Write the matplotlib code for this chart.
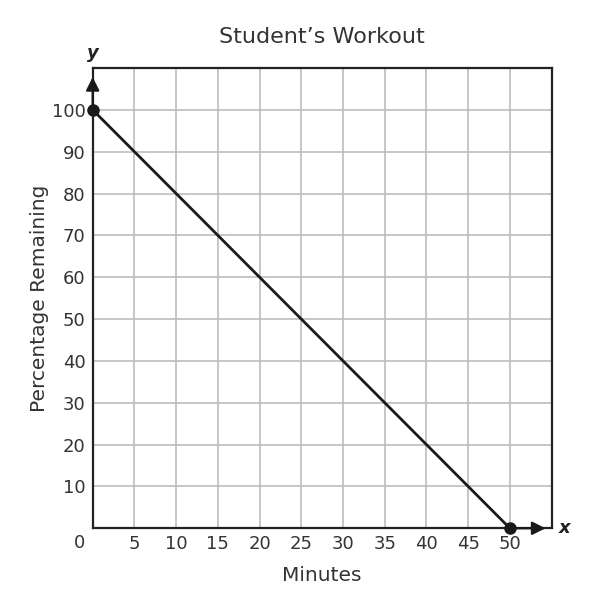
import matplotlib
matplotlib.use('Agg')
import matplotlib.pyplot as plt

# Datos del gráfico
minutes = [0, 50]
percentage = [100, 0]
x_ticks = [5, 10, 15, 20, 25, 30, 35, 40, 45, 50]
y_ticks = [10, 20, 30, 40, 50, 60, 70, 80, 90, 100]

fig = plt.figure(figsize=(6.01, 6.13), dpi=100)
ax = fig.add_axes([0.1542, 0.1382, 0.7637, 0.7509])

ax.set_xlim(0, 55)
ax.set_ylim(0, 110)

# Cuadrícula
for xv in x_ticks:
    ax.axvline(xv, color='#bcbcbc', lw=1.2, zorder=1)
for yv in y_ticks:
    ax.axhline(yv, color='#bcbcbc', lw=1.2, zorder=1)

for s in ax.spines.values():
    s.set_color('#222222')
    s.set_linewidth(1.6)

ax.set_xticks(x_ticks)
ax.set_yticks(y_ticks)
ax.tick_params(length=0, labelsize=13, labelcolor='#333333', pad=5)

# Línea y puntos
ax.plot(minutes, percentage, color='#1a1a1a', lw=2, zorder=3, clip_on=False)
ax.plot(minutes, percentage, 'o', color='#1a1a1a', ms=8, zorder=4, clip_on=False)

# Flechas de los ejes
ax.annotate('', xy=(0, 108.5), xytext=(0, 100),
            arrowprops=dict(arrowstyle='-|>', mutation_scale=20, color='#1a1a1a', lw=1.6),
            annotation_clip=False)
ax.annotate('', xy=(54.6, 0), xytext=(50, 0),
            arrowprops=dict(arrowstyle='-|>', mutation_scale=20, color='#1a1a1a', lw=1.6),
            annotation_clip=False)

ax.text(0, 111.5, 'y', fontsize=13, fontweight='bold', fontstyle='italic',
        ha='center', va='bottom', color='#222222')
ax.text(55.9, 0, 'x', fontsize=13, fontweight='bold', fontstyle='italic',
        ha='left', va='center', color='#222222')
ax.text(-0.9, -1.25, '0', fontsize=13, color='#333333', ha='right', va='top')

ax.set_title("Student\u2019s Workout", fontsize=16, color='#333333', pad=18)
ax.set_xlabel('Minutes', fontsize=14.5, color='#333333', labelpad=9)
ax.set_ylabel('Percentage Remaining', fontsize=14.5, color='#333333', labelpad=2)

fig.savefig('out.png', dpi=100)
